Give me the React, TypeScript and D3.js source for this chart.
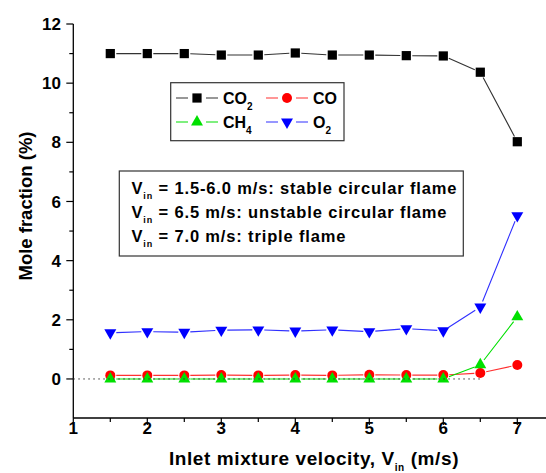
import * as d3 from "d3";

const velocity = [1.5, 2, 2.5, 3, 3.5, 4, 4.5, 5, 5.5, 6, 6.5, 7];
const co2 = [11.0, 11.0, 11.0, 10.95, 10.95, 11.02, 10.95, 10.95, 10.93, 10.92, 10.37, 8.02];
const co = [0.12, 0.12, 0.12, 0.13, 0.12, 0.13, 0.12, 0.14, 0.13, 0.13, 0.2, 0.47];
const ch4 = [0, 0, 0, 0, 0, 0, 0, 0, 0, 0, 0.48, 2.1];
const o2 = [1.56, 1.6, 1.58, 1.65, 1.66, 1.62, 1.66, 1.6, 1.7, 1.63, 2.43, 5.52];
const yTicks = [0, 2, 4, 6, 8, 10, 12];
const xTicks = [1, 2, 3, 4, 5, 6, 7];
const notes = [
  "= 1.5-6.0 m/s: stable circular flame",
  "= 6.5 m/s: unstable circular flame",
  "= 7.0 m/s: triple flame",
];

const W = 546;
const H = 473;
const font = "Liberation Sans, Arial, sans-serif";

const x = d3.scaleLinear().domain([1, 7.4]).range([73.3, 546.9]);
const y = d3.scaleLinear().domain([-1.32, 12]).range([418, 24]);

type Shape = "square" | "circle" | "up" | "down";

function Marker({ cx, cy, shape, color }: { cx: number; cy: number; shape: Shape; color: string }) {
  if (shape === "square") return <rect x={cx - 4.6} y={cy - 4.6} width={9.2} height={9.2} fill={color} />;
  if (shape === "circle") return <circle cx={cx} cy={cy} r={5} fill={color} />;
  const tri = d3.symbol().type(d3.symbolTriangle).size(62)();
  return <path d={tri || ""} transform={`translate(${cx},${cy}) rotate(${shape === "down" ? 180 : 0})`} fill={color} />;
}

// line pieces with a small gap round each marker, like Origin draws them
function gapped(vals: number[], gap: number) {
  const out: string[] = [];
  for (let i = 0; i < vals.length - 1; i++) {
    const x0 = x(velocity[i]), y0 = y(vals[i]);
    const x1 = x(velocity[i + 1]), y1 = y(vals[i + 1]);
    const len = Math.hypot(x1 - x0, y1 - y0);
    if (len <= gap * 2) continue;
    const ux = (x1 - x0) / len, uy = (y1 - y0) / len;
    out.push(`M${x0 + ux * gap},${y0 + uy * gap}L${x1 - ux * gap},${y1 - uy * gap}`);
  }
  return out.join("");
}

const series: { name: string; sub: string; vals: number[]; shape: Shape; fill: string; line: string }[] = [
  { name: "CO", sub: "2", vals: co2, shape: "square", fill: "#000", line: "#333" },
  { name: "CO", sub: "", vals: co, shape: "circle", fill: "#ff0000", line: "#ff3030" },
  { name: "CH", sub: "4", vals: ch4, shape: "up", fill: "#00e000", line: "#00e000" },
  { name: "O", sub: "2", vals: o2, shape: "down", fill: "#0000ff", line: "#3030ff" },
];

export default function App() {
  const legendPos = [
    [176, 98],
    [266, 98],
    [176, 122],
    [266, 122],
  ];
  return (
    <svg width={W} height={H} style={{ position: "absolute", left: 0, top: 0, background: "#fff" }} fontFamily={font} fontWeight="bold">
      {/* axes */}
      <line x1={x(1)} x2={W} y1={418} y2={418} stroke="#000" strokeWidth={1.3} />
      <line x1={x(1)} x2={x(1)} y1={24} y2={418} stroke="#000" strokeWidth={1.3} />
      {yTicks.map((t) => (
        <g key={"y" + t}>
          <line x1={x(1) - 7} x2={x(1)} y1={y(t)} y2={y(t)} stroke="#000" strokeWidth={1.2} />
          <text x={61} y={y(t)} dy="0.36em" textAnchor="end" fontSize={17}>{t}</text>
        </g>
      ))}
      {d3.range(1, 12, 2).map((t) => (
        <line key={"ym" + t} x1={x(1) - 4} x2={x(1)} y1={y(t)} y2={y(t)} stroke="#000" strokeWidth={1.2} />
      ))}
      {xTicks.map((t) => (
        <g key={"x" + t}>
          <line x1={x(t)} x2={x(t)} y1={418} y2={425} stroke="#000" strokeWidth={1.2} />
          <text x={x(t)} y={434} textAnchor="middle" fontSize={17}>{t}</text>
        </g>
      ))}
      {d3.range(1.5, 7.4, 1).map((t) => (
        <line key={"xm" + t} x1={x(t)} x2={x(t)} y1={418} y2={422} stroke="#000" strokeWidth={1.2} />
      ))}
      <text transform={`translate(32,${206}) rotate(-90)`} textAnchor="middle" fontSize={18.5}>Mole fraction (%)</text>
      <text x={314} y={465} textAnchor="middle" fontSize={19} letterSpacing={0.6}>
        Inlet mixture velocity, V<tspan fontSize={10} dy={6}>in</tspan><tspan dy={-6}> (m/s)</tspan>
      </text>

      {/* series */}
      {series.map((s, i) => (
        <g key={"s" + i}>
          <path d={gapped(s.vals, 6)} fill="none" stroke={s.line} strokeWidth={1.1} />
          {s.vals.map((v, j) => (
            <Marker key={j} cx={x(velocity[j])} cy={y(v)} shape={s.shape} color={s.fill} />
          ))}
        </g>
      ))}
      <line x1={x(1)} x2={x(6.5)} y1={y(0)} y2={y(0)} stroke="#333" strokeWidth={1} strokeDasharray="1.5,3.5" />

      {/* legend */}
      <rect x={170.7} y={82.7} width={173.3} height={58} fill="#fff" stroke="#333" strokeWidth={1.2} />
      {series.map((s, i) => {
        const [lx, ly] = legendPos[i];
        return (
          <g key={"l" + i}>
            <line x1={lx} x2={lx + 42} y1={ly} y2={ly} stroke={s.line} strokeWidth={1.1} />
            <rect x={lx + 12} y={ly - 6} width={18} height={12} fill="#fff" />
            <Marker cx={lx + 21} cy={ly} shape={s.shape} color={s.fill} />
            <text x={lx + 47} y={ly} dy="0.36em" fontSize={16}>
              {s.name}
              {s.sub && <tspan fontSize={10} dy={6}>{s.sub}</tspan>}
            </text>
          </g>
        );
      })}

      {/* annotation */}
      <rect x={119.3} y={171} width={344} height={85} fill="#fff" stroke="#333" strokeWidth={1.2} />
      {notes.map((n, i) => (
        <text key={"n" + i} x={131.5} y={193.5 + i * 24.2} fontSize={16.5} letterSpacing={0.85}>
          V<tspan fontSize={9} dy={5}>in</tspan><tspan dy={-5}> {n}</tspan>
        </text>
      ))}
    </svg>
  );
}
